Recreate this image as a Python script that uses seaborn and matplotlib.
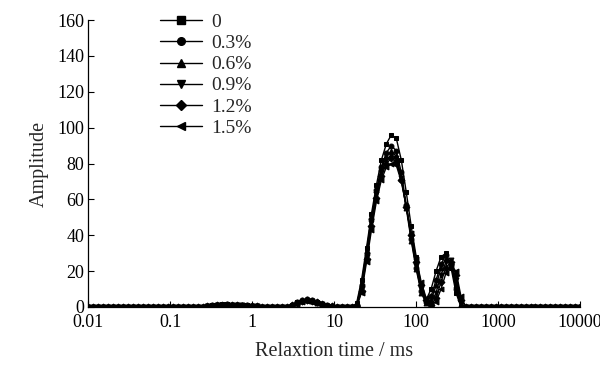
import numpy as np
import pandas as pd
import matplotlib
matplotlib.use("Agg")
import matplotlib.pyplot as plt
import seaborn as sns

# Relaxation time grid (ms), 100 log-spaced points (NMR inversion grid)
t2 = np.logspace(-2, 4, 100)

labels = ["0", "0.3%", "0.6%", "0.9%", "1.2%", "1.5%"]
markers = ["s", "o", "^", "v", "D", "<"]

z = [0.0]
a0 = z*24 + [0.5, 1.0, 1.2, 1.4, 1.5, 1.3, 1.2, 1.0, 1.0, 0.8, 0.5, 0.2] + z*5 + \
     [1.0, 2.5, 3.5, 4.0, 3.5, 2.5, 1.5, 0.8, 0.3] + z*4 + \
     [2, 15, 33, 52, 68, 82, 91, 96, 94, 82, 64, 45, 28, 12, 4, 10, 20, 28, 30, 22, 8] + z*25
a1 = z*24 + [0.4, 0.9, 1.1, 1.3, 1.4, 1.2, 1.1, 1.0, 0.9, 0.7, 0.4, 0.2] + z*5 + \
     [1.2, 2.8, 3.8, 4.3, 3.8, 2.8, 1.7, 0.9, 0.3] + z*4 + \
     [1, 12, 30, 49, 65, 78, 86, 90, 87, 75, 57, 38, 22, 9, 3, 6, 15, 24, 29, 24, 10] + z*25
a2 = z*24 + [0.5, 0.8, 1.0, 1.2, 1.3, 1.2, 1.0, 0.9, 0.8, 0.6, 0.4, 0.1] + z*5 + \
     [1.0, 2.2, 3.2, 3.8, 3.4, 2.4, 1.5, 0.8, 0.3] + z*4 + \
     [1, 13, 31, 50, 65, 77, 84, 87, 84, 72, 55, 37, 21, 8, 2, 4, 12, 22, 27, 25, 12] + z*25
a3 = z*24 + [0.3, 0.7, 1.0, 1.2, 1.3, 1.1, 1.0, 0.9, 0.8, 0.6, 0.4, 0.1] + z*5 + \
     [0.8, 2.0, 3.0, 3.6, 3.2, 2.3, 1.4, 0.7, 0.2] + z*4 + \
     [0, 10, 28, 47, 63, 75, 82, 85, 83, 72, 56, 39, 23, 10, 3, 2, 8, 18, 25, 26, 15, 2] + z*24
a4 = z*24 + [0.4, 0.8, 1.0, 1.1, 1.2, 1.1, 1.0, 0.8, 0.7, 0.5, 0.3, 0.1] + z*5 + \
     [0.9, 2.3, 3.4, 3.9, 3.5, 2.5, 1.6, 0.8, 0.3] + z*4 + \
     [0, 9, 27, 45, 61, 73, 80, 83, 81, 71, 56, 40, 25, 12, 4, 1, 5, 14, 22, 25, 18, 4] + z*24
a5 = z*24 + [0.3, 0.6, 0.9, 1.0, 1.1, 1.0, 0.9, 0.8, 0.7, 0.5, 0.3, 0.1] + z*5 + \
     [0.7, 1.9, 2.9, 3.4, 3.0, 2.2, 1.3, 0.7, 0.2] + z*4 + \
     [0, 8, 25, 43, 59, 71, 78, 80, 79, 70, 56, 41, 27, 14, 5, 1, 3, 10, 19, 23, 20, 6] + z*24

series = [a0, a1, a2, a3, a4, a5]

frames = []
for lab, vals in zip(labels, series):
    frames.append(pd.DataFrame({"t": t2, "amp": vals, "grp": lab}))
df = pd.concat(frames, ignore_index=True)

sns.set_style("ticks")
plt.rcParams["font.family"] = ["Liberation Serif", "DejaVu Serif"]

fig = plt.figure(figsize=(6.0, 3.65), dpi=100)
ax = fig.add_axes([0.147, 0.159, 0.820, 0.786])

sns.lineplot(data=df, x="t", y="amp", hue="grp", style="grp",
             palette=["black"] * 6, markers=dict(zip(labels, markers)),
             dashes=False, linewidth=1.0, markersize=3.5,
             markeredgecolor="black", ax=ax, legend=False, sort=False)

ax.set_xscale("log")
ax.set_xlim(0.01, 10000)
ax.set_ylim(0, 160)
ax.set_xticks([0.01, 0.1, 1, 10, 100, 1000, 10000])
ax.set_xticklabels(["0.01", "0.1", "1", "10", "100", "1000", "10000"])
ax.xaxis.set_minor_locator(matplotlib.ticker.NullLocator())
ax.set_yticks(range(0, 161, 20))
ax.tick_params(direction="in", length=4, width=0.8, labelsize=13, colors="black")
ax.tick_params(axis="x", pad=5)
ax.tick_params(axis="y", pad=3)
for s in ["top", "right"]:
    ax.spines[s].set_visible(False)
for s in ["left", "bottom"]:
    ax.spines[s].set_color("black")
    ax.spines[s].set_linewidth(0.9)

ax.set_xlabel("Relaxtion time / ms", fontsize=14.5, labelpad=8)
ax.set_ylabel("Amplitude", fontsize=14.5, labelpad=6)

from matplotlib.lines import Line2D
handles = [Line2D([0], [0], color="black", lw=1.0, marker=m, markersize=5.5,
                  markeredgecolor="black") for m in markers]
ax.legend(handles, labels, loc="upper left", bbox_to_anchor=(0.130, 1.05),
          frameon=False, fontsize=14, handlelength=2.15, handletextpad=0.5,
          labelspacing=0.18, borderaxespad=0)

fig.savefig("out.png", dpi=100)
